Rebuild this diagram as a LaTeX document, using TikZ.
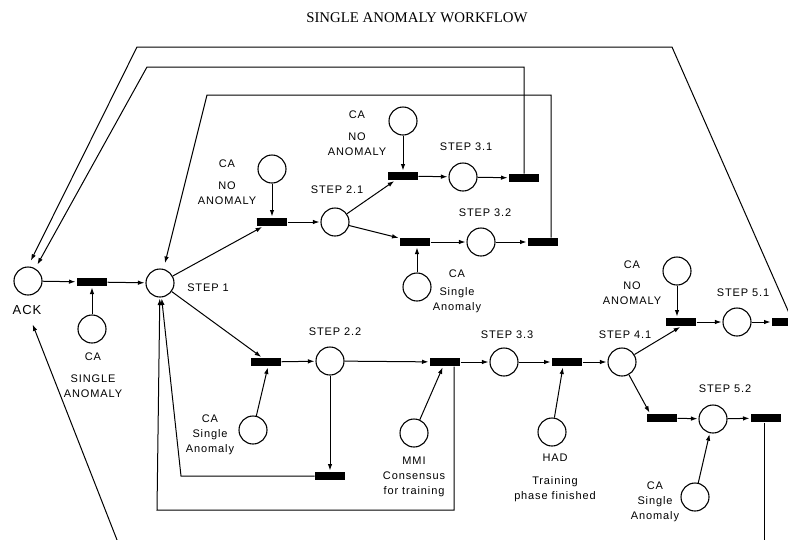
\documentclass[tikz,border=0pt]{standalone}
\usepackage{fontspec}
\usepackage{tikz}
\usetikzlibrary{arrows.meta,calc}
\newfontfamily\labfont[LetterSpace=8]{Liberation Sans}
\newfontfamily\titlefont{Liberation Serif}

\begin{document}
\begin{tikzpicture}[x=1pt,y=-1pt,line width=1pt,
  place/.style={circle,draw,line width=1.1pt,minimum size=28pt,inner sep=0pt},
  trans/.style={fill=black,minimum width=30pt,minimum height=8pt,inner sep=0pt},
  lbl/.style={font=\labfont\fontsize{11}{15}\selectfont,align=center,inner sep=0pt},
  arc/.style={-{Latex[length=6.5pt,width=4.5pt]},shorten >=1pt}]
  \useasboundingbox (0,0) rectangle (788,539);
  \clip (0,0) rectangle (788,539);
  \node[font=\titlefont\fontsize{14.8}{16}\selectfont] (title) at (417,18) {SINGLE ANOMALY WORKFLOW};
  \foreach \n/\x/\y in {ack/28/281, step1/160/283, step21/335/222, step22/330/361,
      step31/463/177, step32/481/242, step33/504/362, step41/622/362, step51/737/322,
      step52/713/419, caA/92/329, caB/272/169, caC/403/121, caD/417/287, caE/253/430,
      mmi/414/433, had/552/432, caF/677/271, caG/695/497}
    \node[place] (\n) at (\x,\y) {};
  \foreach \n/\x/\y in {t0/92/282, t1/272/222, t31/403/176, t31o/524/178, t32/415/242,
      t32o/543/242, t2/266/362, t22b/330/476, t33/445/362, t41/567/362, t51/681/322,
      t51o/787/322, t52/662/418, t52o/766/418}
    \node[trans] (\n) at (\x,\y) {};
  \foreach \n/\s/\x/\y in {s1/1/208/288, s21/2.1/337/190, s22/2.2/335/332, s31/3.1/466/147,
      s32/3.2/485/213, s33/3.3/507/335, s41/4.1/625/335, s51/5.1/743/293, s52/5.2/725/389}
    \node[lbl] (\n) at (\x,\y) {STEP \s};
  \node[lbl,font=\labfont\fontsize{13}{15}\selectfont] (acklbl) at (27,310) {ACK};
  \node[lbl,anchor=north] (caAlbl) at (93,352) {CA\\[7pt]SINGLE\\ANOMALY};
  \node[lbl,anchor=north] (caBlbl) at (227,159) {CA\\[7pt]NO\\ANOMALY};
  \node[lbl,anchor=north] (caClbl) at (357,110) {CA\\[7pt]NO\\ANOMALY};
  \node[lbl,anchor=north] (caDlbl) at (457,269) {CA\\[3pt]Single\\Anomaly};
  \node[lbl,anchor=north] (caElbl) at (210,414) {CA\\Single\\Anomaly};
  \node[lbl,anchor=north] (mmilbl) at (414,456) {MMI\\Consensus\\for training};
  \node[lbl,anchor=north] (hadlbl) at (555,453) {HAD\\[8pt]Training\\phase finished};
  \node[lbl,anchor=north] (caFlbl) at (632,260) {CA\\[6pt]NO\\ANOMALY};
  \node[lbl,anchor=north] (caGlbl) at (655,481) {CA\\Single\\Anomaly};
  \draw[arc] (ack) -- (t0);
  \draw[arc] (t0) -- (step1);
  \draw[arc] (caA) -- (t0);
  \draw[arc] (step1) -- ($(t1.south)+(-9,0)$);
  \draw[arc] (caB) -- (t1);
  \draw[arc] (t1) -- (step21);
  \draw[arc] (step21) -- ($(t31.south)+(-8,0)$);
  \draw[arc] (caC) -- (t31);
  \draw[arc] (t31) -- (step31);
  \draw[arc] (step31) -- (t31o);
  \draw[arc] (step21) -- (t32);
  \draw[arc] (caD) -- (caD |- t32.south);
  \draw[arc] (t32) -- (step32);
  \draw[arc] (step32) -- (t32o);
  \draw[arc] (step1) -- ($(t2.north)+(-4,0)$);
  \draw[arc] (caE) -- ($(t2.south)+(2,0)$);
  \draw[arc] (t2) -- (step22);
  \draw[arc] (step22) -- (t33);
  \draw[arc] (step22) -- (t22b);
  \draw[arc] (mmi) -- (t33);
  \draw[arc] (t33) -- (step33);
  \draw[arc] (step33) -- (t41);
  \draw[arc] (had) -- ($(t41.south)+(-4,0)$);
  \draw[arc] (t41) -- (step41);
  \draw[arc] (step41) -- (t51.south);
  \draw[arc] (caF) -- (caF |- t51.north);
  \draw[arc] (t51) -- (step51);
  \draw[arc] (step51) -- (t51o);
  \draw[arc] (step41) -- ($(t52.north)+(-12,0)$);
  \draw[arc] (t52) -- (step52);
  \draw[arc] (caG) -- (step52);
  \draw[arc] (step52) -- (t52o);
  \coordinate (r1) at (147,67);
  \coordinate (r2) at (207,95);
  \coordinate (r2c) at (551,95);
  \coordinate (r3) at (137,47);
  \coordinate (r3c) at (672,47);
  \coordinate (r4) at (181,476);
  \coordinate (r5) at (157,510);
  \coordinate (r5c) at (454,510);
  \coordinate (r6) at (764,545);
  \coordinate (r7) at (119,545);
  \draw[arc,shorten >=4.5pt] (t31o.north) |- (r1) -- (ack.60);
  \draw[arc,shorten >=6pt] (r2c |- t32o.north) -- (r2c) -- (r2) -- (step1);
  \draw[arc,shorten >=6.5pt] ($(t51o)+(6,0)$) -- (r3c) -- (r3) -- (ack.north);
  \draw[arc] (t22b) -- (r4) -- (step1);
  \draw[arc] (r5c |- t33.south) -- (r5c) -- (r5) -- (step1);
  \draw (r6 |- t52o.south) -- (r6);
  \draw[arc,shorten >=10pt] (r7) -- (acklbl);
\end{tikzpicture}
\end{document}
